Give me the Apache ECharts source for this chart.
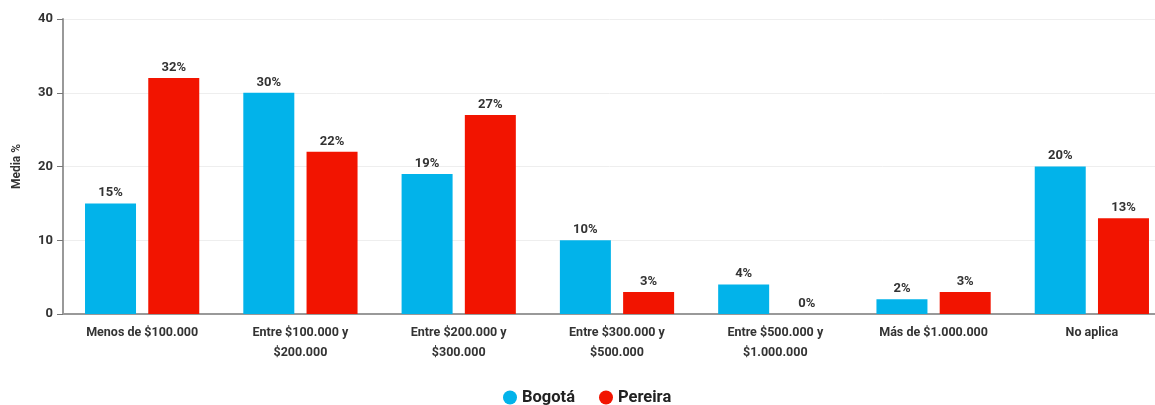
<!DOCTYPE html>
<html>
<head>
<meta charset="utf-8">
<script src="https://cdn.jsdelivr.net/npm/echarts@6/dist/echarts.min.js"></script>
<style>
  html, body { margin: 0; padding: 0; background: #fff; }
  #chart { width: 1155px; height: 405px; }
</style>
</head>
<body>
<div id="chart"></div>
<script>
const categories = [
  'Menos de $100.000',
  'Entre $100.000 y\n$200.000',
  'Entre $200.000 y\n$300.000',
  'Entre $300.000 y\n$500.000',
  'Entre $500.000 y\n$1.000.000',
  'Más de $1.000.000',
  'No aplica'
]
const bogota = [15, 30, 19, 10, 4, 2, 20]
const pereira = [32, 22, 27, 3, 0, 3, 13]
const yTicks = { min: 0, max: 40, interval: 10 }

const font = 'Roboto, "DejaVu Sans", sans-serif'
const labelStyle = {
  show: true,
  position: 'top',
  formatter: '{c}%',
  fontFamily: font,
  fontWeight: 'bold',
  fontSize: 13,
  color: '#333',
  distance: 4
}

const chart = echarts.init(document.getElementById('chart'))
chart.setOption({
  animation: false,
  color: ['#02b3ea', '#f21400'],
  grid: {
    left: 63,
    width: 1108,
    top: 19,
    bottom: 91,
    outerBoundsMode: 'none',
    containLabel: false
  },
  legend: {
    bottom: -6,
    left: 498,
    icon: 'circle',
    itemWidth: 14,
    itemHeight: 14,
    itemGap: 24,
    textStyle: {
      fontFamily: font,
      fontWeight: 'bold',
      fontSize: 16.5,
      color: '#222'
    },
    data: ['Bogotá', 'Pereira']
  },
  xAxis: {
    type: 'category',
    data: categories,
    axisLine: { lineStyle: { color: '#999', width: 2 } },
    axisTick: { alignWithLabel: true, length: 5, lineStyle: { color: '#777' } },
    axisLabel: {
      interval: 0,
      margin: 9,
      lineHeight: 20,
      fontFamily: font,
      fontWeight: 'bold',
      fontSize: 12.5,
      color: '#333'
    }
  },
  yAxis: {
    type: 'value',
    min: yTicks.min,
    max: yTicks.max,
    interval: yTicks.interval,
    name: 'Media %',
    nameLocation: 'middle',
    nameGap: 40,
    nameTextStyle: {
      fontFamily: font,
      fontWeight: 'bold',
      fontSize: 12,
      color: '#333'
    },
    axisLine: { show: true, lineStyle: { color: '#999', width: 2 } },
    axisTick: { show: true, length: 6, lineStyle: { color: '#777' } },
    axisLabel: {
      margin: 10,
      fontFamily: font,
      fontWeight: 'bold',
      fontSize: 13,
      color: '#333'
    },
    splitLine: { lineStyle: { color: '#eee' } }
  },
  series: [{
    name: 'Bogotá',
    type: 'bar',
    data: bogota,
    barWidth: 51,
    barGap: '24%',
    label: labelStyle
  }, {
    name: 'Pereira',
    type: 'bar',
    data: pereira,
    barWidth: 51,
    label: labelStyle
  }]
})
</script>
</body>
</html>
